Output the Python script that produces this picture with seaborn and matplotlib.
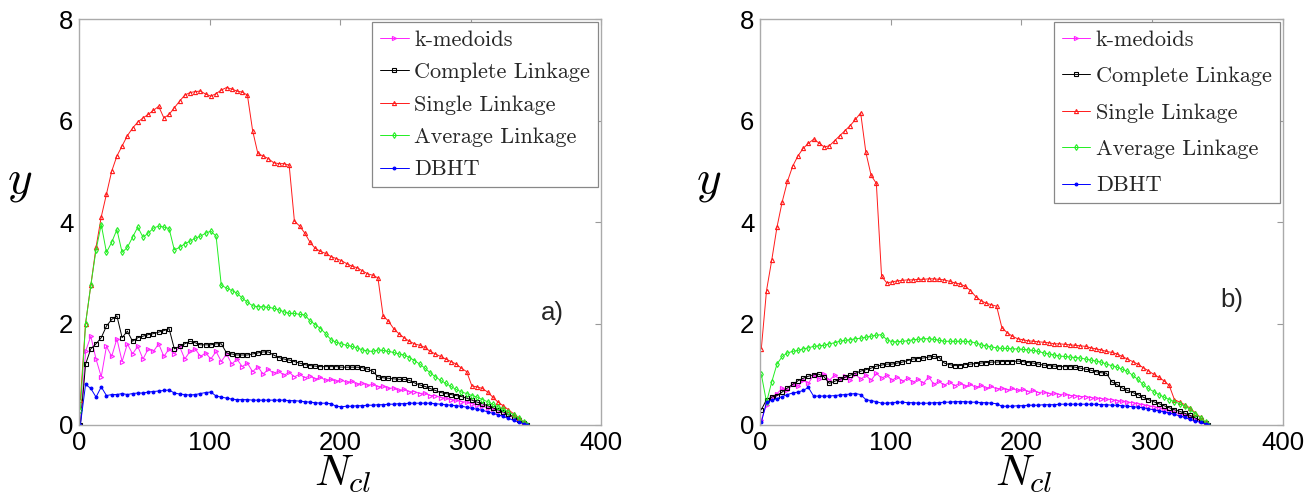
import numpy as np
import pandas as pd
import seaborn as sns
import matplotlib.pyplot as plt
from matplotlib.font_manager import FontProperties

# sampled number of clusters (shared by all curves)
n_cl = [1, 5, 9, 13, 17, 21, 25, 29, 33, 37, 41, 45, 49, 53, 57, 61, 65, 69, 73, 77,
        81, 85, 89, 93, 97, 101, 105, 109, 113, 117, 121, 125, 129, 133, 137, 141, 145, 149, 153, 157,
        161, 165, 169, 173, 177, 181, 185, 189, 193, 197, 201, 205, 209, 213, 217, 221, 225, 229, 233, 237,
        241, 245, 249, 253, 257, 261, 265, 269, 273, 277, 281, 285, 289, 293, 297, 301, 305, 309, 313, 317,
        321, 325, 329, 333, 337, 341, 343]

labels = ['k-medoids', 'Complete Linkage', 'Single Linkage', 'Average Linkage', 'DBHT']

# panel a)
a_kmedoids = [0.0, 1.45, 1.75, 1.3, 0.95, 1.55, 1.35, 1.7, 1.25, 1.6, 1.4, 1.55, 1.3, 1.5, 1.45, 1.6, 1.35, 1.5, 1.4, 1.55,
              1.3, 1.45, 1.5, 1.35, 1.42, 1.3, 1.45, 1.25, 1.4, 1.2, 1.3, 1.15, 1.22, 1.05, 1.15, 1.0, 1.1, 1.02, 1.06, 0.98,
              1.04, 0.95, 1.0, 0.93, 0.97, 0.9, 0.94, 0.88, 0.9, 0.86, 0.89, 0.84, 0.86, 0.8, 0.83, 0.78, 0.8, 0.75, 0.77, 0.72,
              0.73, 0.68, 0.7, 0.65, 0.66, 0.62, 0.63, 0.58, 0.58, 0.54, 0.53, 0.5, 0.49, 0.46, 0.45, 0.42, 0.4, 0.37, 0.34, 0.31,
              0.28, 0.24, 0.2, 0.15, 0.1, 0.04, 0.0]
a_complete = [0.0, 1.2, 1.5, 1.6, 1.72, 1.95, 2.08, 2.15, 1.72, 1.85, 1.65, 1.72, 1.75, 1.78, 1.8, 1.83, 1.86, 1.9, 1.5, 1.55,
              1.6, 1.65, 1.62, 1.58, 1.58, 1.58, 1.6, 1.6, 1.42, 1.4, 1.38, 1.38, 1.38, 1.4, 1.42, 1.44, 1.44, 1.38, 1.33, 1.3,
              1.28, 1.25, 1.22, 1.19, 1.17, 1.16, 1.15, 1.15, 1.15, 1.15, 1.14, 1.14, 1.14, 1.14, 1.13, 1.1, 1.06, 0.95, 0.93, 0.92,
              0.91, 0.9, 0.9, 0.88, 0.83, 0.79, 0.76, 0.72, 0.68, 0.64, 0.62, 0.6, 0.58, 0.56, 0.53, 0.49, 0.45, 0.42, 0.38, 0.34,
              0.3, 0.26, 0.21, 0.16, 0.1, 0.04, 0.0]
a_single = [0.5, 2.0, 2.75, 3.5, 4.1, 4.55, 5.0, 5.3, 5.5, 5.7, 5.85, 5.97, 6.05, 6.12, 6.2, 6.28, 6.05, 6.12, 6.25, 6.38,
            6.5, 6.55, 6.57, 6.58, 6.52, 6.48, 6.53, 6.6, 6.65, 6.62, 6.58, 6.56, 6.5, 5.8, 5.35, 5.3, 5.25, 5.17, 5.15, 5.15,
            5.12, 4.02, 3.92, 3.78, 3.6, 3.48, 3.42, 3.38, 3.32, 3.28, 3.24, 3.18, 3.13, 3.1, 3.04, 2.98, 2.95, 2.9, 2.15, 2.05,
            1.9, 1.8, 1.72, 1.65, 1.6, 1.57, 1.53, 1.45, 1.4, 1.35, 1.3, 1.25, 1.2, 1.12, 1.05, 0.77, 0.75, 0.72, 0.65, 0.55,
            0.45, 0.38, 0.3, 0.22, 0.14, 0.05, 0.0]
a_average = [0.3, 2.0, 2.75, 3.45, 3.95, 3.4, 3.6, 3.85, 3.4, 3.5, 3.7, 3.9, 3.7, 3.78, 3.88, 3.92, 3.9, 3.87, 3.45, 3.5,
             3.57, 3.62, 3.68, 3.72, 3.78, 3.82, 3.72, 2.75, 2.7, 2.65, 2.6, 2.5, 2.42, 2.35, 2.33, 2.33, 2.32, 2.3, 2.27, 2.23,
             2.2, 2.2, 2.18, 2.17, 2.05, 1.98, 1.9, 1.8, 1.68, 1.63, 1.6, 1.57, 1.55, 1.52, 1.48, 1.46, 1.45, 1.48, 1.47, 1.45,
             1.43, 1.4, 1.38, 1.33, 1.27, 1.2, 1.12, 1.03, 0.95, 0.88, 0.82, 0.76, 0.7, 0.65, 0.62, 0.58, 0.55, 0.5, 0.46, 0.41,
             0.36, 0.31, 0.26, 0.2, 0.13, 0.05, 0.0]
a_dbht = [0.0, 0.8, 0.72, 0.55, 0.75, 0.58, 0.6, 0.6, 0.62, 0.6, 0.62, 0.63, 0.63, 0.65, 0.66, 0.67, 0.68, 0.69, 0.63, 0.61,
          0.6, 0.59, 0.6, 0.62, 0.64, 0.65, 0.57, 0.55, 0.53, 0.51, 0.5, 0.5, 0.5, 0.49, 0.49, 0.49, 0.49, 0.49, 0.49, 0.49,
          0.48, 0.48, 0.47, 0.46, 0.45, 0.44, 0.43, 0.43, 0.42, 0.37, 0.36, 0.37, 0.37, 0.38, 0.38, 0.39, 0.39, 0.4, 0.4, 0.41,
          0.41, 0.42, 0.42, 0.43, 0.43, 0.43, 0.43, 0.43, 0.42, 0.41, 0.4, 0.39, 0.38, 0.37, 0.35, 0.33, 0.31, 0.29, 0.26, 0.23,
          0.2, 0.17, 0.13, 0.09, 0.06, 0.02, 0.0]

# panel b)
b_kmedoids = [0.1, 0.4, 0.55, 0.62, 0.72, 0.68, 0.8, 0.76, 0.88, 0.82, 0.98, 0.9, 1.0, 0.88, 0.98, 0.9, 0.96, 0.88, 1.0, 0.9,
              0.98, 0.88, 1.02, 0.92, 0.98, 0.88, 0.95, 0.86, 0.92, 0.84, 0.9, 0.82, 0.95, 0.8, 0.86, 0.78, 0.85, 0.77, 0.83, 0.76,
              0.8, 0.74, 0.78, 0.72, 0.76, 0.71, 0.73, 0.69, 0.72, 0.68, 0.7, 0.66, 0.68, 0.64, 0.65, 0.62, 0.63, 0.6, 0.61, 0.58,
              0.58, 0.56, 0.56, 0.54, 0.53, 0.52, 0.51, 0.5, 0.48, 0.47, 0.45, 0.44, 0.42, 0.4, 0.38, 0.36, 0.34, 0.31, 0.28, 0.25,
              0.22, 0.19, 0.15, 0.11, 0.07, 0.02, 0.0]
b_complete = [0.3, 0.5, 0.55, 0.58, 0.65, 0.73, 0.8, 0.87, 0.92, 0.96, 0.99, 1.0, 0.95, 0.82, 0.86, 0.9, 0.94, 0.98, 1.02, 1.06,
              1.09, 1.12, 1.16, 1.18, 1.2, 1.2, 1.22, 1.24, 1.27, 1.3, 1.31, 1.32, 1.34, 1.35, 1.33, 1.22, 1.19, 1.17, 1.17, 1.19,
              1.2, 1.21, 1.22, 1.23, 1.24, 1.24, 1.25, 1.25, 1.25, 1.26, 1.25, 1.23, 1.22, 1.2, 1.18, 1.17, 1.16, 1.15, 1.15, 1.15,
              1.14, 1.12, 1.1, 1.08, 1.05, 1.03, 1.02, 0.85, 0.8, 0.73, 0.68, 0.64, 0.6, 0.55, 0.5, 0.46, 0.42, 0.38, 0.34, 0.3,
              0.27, 0.23, 0.19, 0.14, 0.09, 0.03, 0.0]
b_single = [1.5, 2.65, 3.25, 3.9, 4.4, 4.8, 5.1, 5.3, 5.45, 5.55, 5.63, 5.56, 5.48, 5.5, 5.6, 5.7, 5.8, 5.9, 6.02, 6.15,
            5.37, 4.92, 4.76, 2.93, 2.8, 2.82, 2.84, 2.85, 2.86, 2.86, 2.87, 2.87, 2.88, 2.88, 2.87, 2.86, 2.83, 2.8, 2.78, 2.73,
            2.65, 2.53, 2.45, 2.4, 2.37, 2.34, 1.92, 1.82, 1.75, 1.7, 1.68, 1.66, 1.65, 1.64, 1.63, 1.62, 1.6, 1.6, 1.59, 1.58,
            1.57, 1.56, 1.55, 1.52, 1.5, 1.48, 1.45, 1.43, 1.4, 1.35, 1.3, 1.25, 1.2, 1.13, 1.07, 1.0, 0.94, 0.87, 0.78, 0.5,
            0.45, 0.4, 0.33, 0.24, 0.15, 0.05, 0.0]
b_average = [1.0, 0.45, 0.85, 1.2, 1.35, 1.42, 1.45, 1.47, 1.5, 1.52, 1.55, 1.56, 1.57, 1.6, 1.62, 1.65, 1.67, 1.68, 1.7, 1.71,
             1.73, 1.75, 1.77, 1.78, 1.68, 1.64, 1.64, 1.65, 1.66, 1.68, 1.69, 1.7, 1.7, 1.69, 1.67, 1.65, 1.65, 1.65, 1.65, 1.65,
             1.64, 1.62, 1.58, 1.56, 1.54, 1.52, 1.51, 1.51, 1.5, 1.5, 1.49, 1.48, 1.47, 1.45, 1.42, 1.4, 1.38, 1.36, 1.35, 1.34,
             1.33, 1.32, 1.3, 1.28, 1.26, 1.24, 1.2, 1.17, 1.14, 1.1, 1.06, 0.98, 0.9, 0.8, 0.72, 0.66, 0.6, 0.55, 0.5, 0.46,
             0.42, 0.37, 0.31, 0.22, 0.14, 0.05, 0.0]
b_dbht = [0.05, 0.45, 0.49, 0.52, 0.56, 0.6, 0.63, 0.65, 0.68, 0.74, 0.57, 0.57, 0.57, 0.57, 0.58, 0.59, 0.6, 0.61, 0.62, 0.6,
          0.5, 0.48, 0.46, 0.43, 0.43, 0.44, 0.45, 0.45, 0.44, 0.44, 0.43, 0.43, 0.43, 0.44, 0.44, 0.45, 0.45, 0.46, 0.46, 0.46,
          0.45, 0.45, 0.44, 0.44, 0.43, 0.42, 0.37, 0.37, 0.37, 0.38, 0.38, 0.39, 0.39, 0.39, 0.4, 0.4, 0.4, 0.41, 0.41, 0.41,
          0.41, 0.41, 0.41, 0.41, 0.41, 0.4, 0.4, 0.39, 0.39, 0.38, 0.37, 0.36, 0.35, 0.34, 0.32, 0.3, 0.28, 0.26, 0.24, 0.21,
          0.18, 0.15, 0.11, 0.08, 0.05, 0.02, 0.0]

colors = ['#ff22ff', '#000000', '#ff1a1a', '#22ee22', '#0000ff']
markers = ['>', 's', '^', 'd', '.']

sns.set_style('white')
plt.rcParams['mathtext.fontset'] = 'cm'
tick_font = 'Liberation Sans'

fig = plt.figure(figsize=(13.11, 4.99), dpi=100)
ax_a = fig.add_axes([0.0603, 0.1483, 0.3982, 0.8136])
ax_b = fig.add_axes([0.5797, 0.1483, 0.3989, 0.8136])

panels = [
    (ax_a, [a_kmedoids, a_complete, a_single, a_average, a_dbht], 'a)', (363, 2.2), 0.58, -0.113),
    (ax_b, [b_kmedoids, b_complete, b_single, b_average, b_dbht], 'b)', (361, 2.46), 0.76, -0.098),
]

for ax, series, tag, tag_pos, spacing, ylab_x in panels:
    for vals, lab, c, m in zip(series, labels, colors, markers):
        df = pd.DataFrame({'N': n_cl, 'y': vals})
        mfc = c if m == '.' else 'none'
        sns.lineplot(data=df, x='N', y='y', ax=ax, color=c, marker=m, markersize=4.0 if m == '.' else 3.0,
                     markerfacecolor=mfc, markeredgecolor=c, markeredgewidth=0.8, linewidth=0.7,
                     label=lab, sort=False, errorbar=None)

    ax.set_xlim(0, 400)
    ax.set_ylim(0, 8)
    ax.set_xticks([0, 100, 200, 300, 400])
    ax.set_yticks([0, 2, 4, 6, 8])
    ax.tick_params(direction='in', length=4, width=0.8, color='#999999', top=True, right=True,
                   labelsize=18.5, labelcolor='black', pad=4)
    for t in ax.get_xticklabels() + ax.get_yticklabels():
        t.set_fontfamily(tick_font)
    for sp in ax.spines.values():
        sp.set_color('#aaaaaa')
        sp.set_linewidth(1.0)

    ax.set_xlabel(r'$N_{cl}$', fontsize=31, color='black')
    ax.xaxis.set_label_coords(0.505, -0.07)
    ax.set_ylabel(r'$y$', fontsize=34, rotation=0, va='center', color='black')
    ax.yaxis.set_label_coords(ylab_x, 0.6)

    ax.text(tag_pos[0], tag_pos[1], tag, fontsize=18.5, fontfamily=tick_font, ha='center', va='center')

    leg = ax.legend(loc='upper right', prop=FontProperties(family='cmr10', size=16), handlelength=1.3,
                    handletextpad=0.25, labelspacing=spacing, borderpad=0.35, borderaxespad=0.15,
                    fancybox=False, framealpha=1, edgecolor='#888888', numpoints=1)
    leg.get_frame().set_linewidth(0.9)

fig.savefig('out.png', dpi=100)
